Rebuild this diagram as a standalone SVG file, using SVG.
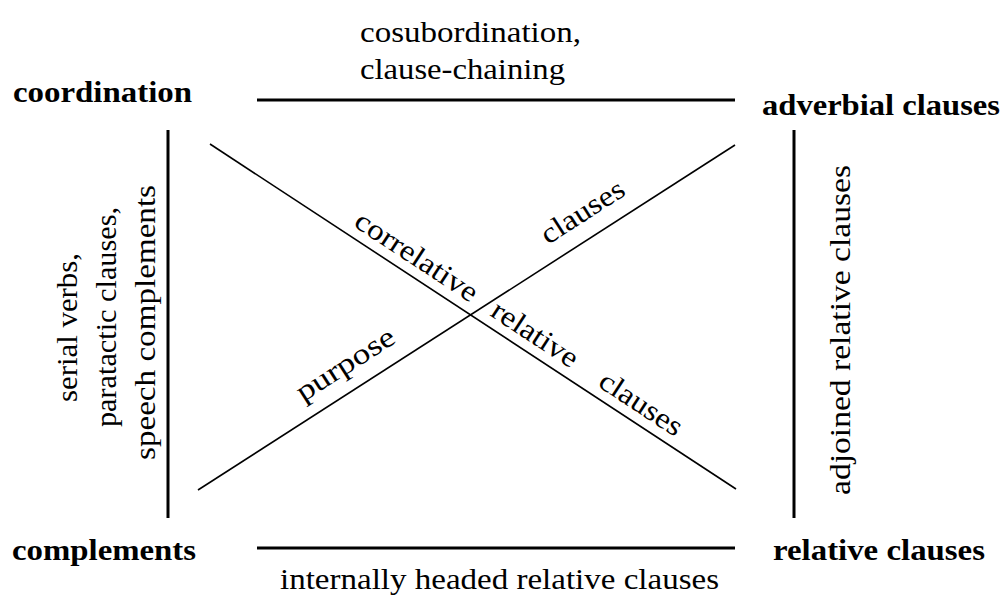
<svg xmlns="http://www.w3.org/2000/svg" width="1006" height="597" viewBox="0 0 1006 597">
<style>
  .node { font-weight: bold; font-size: 30px; }
  .lbl { font-size: 29px; }
  .thick { stroke: #000; stroke-width: 3; fill: none; }
  .thin { stroke: #000; stroke-width: 1.6; fill: none; }
</style>
<rect width="1006" height="597" fill="#fff"/>
<g font-family="Liberation Serif" fill="#000">
<g id="node-coordination">
  <text class="node" x="13" y="101.5" textLength="179" lengthAdjust="spacingAndGlyphs">coordination</text>
</g>
<g id="node-adverbial">
  <text class="node" x="762" y="115" textLength="238" lengthAdjust="spacingAndGlyphs">adverbial clauses</text>
</g>
<g id="node-complements">
  <text class="node" x="12" y="560" textLength="184" lengthAdjust="spacingAndGlyphs">complements</text>
</g>
<g id="node-relative">
  <text class="node" x="773" y="560" textLength="212" lengthAdjust="spacingAndGlyphs">relative clauses</text>
</g>

<g id="connectors">
  <g id="edge-top">
    <line class="thick" x1="257" y1="100" x2="735" y2="100"/>
    <text class="lbl" x="360" y="41.5" textLength="221" lengthAdjust="spacingAndGlyphs">cosubordination,</text>
    <text class="lbl" x="360" y="78.5" textLength="205" lengthAdjust="spacingAndGlyphs">clause-chaining</text>
  </g>
  <g id="edge-bottom">
    <line class="thick" x1="257" y1="548" x2="735" y2="548"/>
    <text class="lbl" x="280" y="589" textLength="439" lengthAdjust="spacingAndGlyphs">internally headed relative clauses</text>
  </g>
  <g id="edge-left">
    <line class="thick" x1="168" y1="130" x2="168" y2="518"/>
    <text class="lbl" transform="translate(77,402) rotate(-90)" textLength="149" lengthAdjust="spacingAndGlyphs">serial verbs,</text>
    <text class="lbl" transform="translate(116,427) rotate(-90)" textLength="220" lengthAdjust="spacingAndGlyphs">paratactic clauses,</text>
    <text class="lbl" transform="translate(155,460) rotate(-90)" textLength="275" lengthAdjust="spacingAndGlyphs">speech complements</text>
  </g>
  <g id="edge-right">
    <line class="thick" x1="794" y1="130" x2="794" y2="518"/>
    <text class="lbl" transform="translate(850,495) rotate(-90)" textLength="330" lengthAdjust="spacingAndGlyphs">adjoined relative clauses</text>
  </g>
  <g id="edge-diag-down">
    <line class="thin" x1="210" y1="144" x2="736" y2="489"/>
    <text class="lbl" transform="translate(352.6,225.6) rotate(33.26)" textLength="141" lengthAdjust="spacingAndGlyphs">correlative</text>
    <text class="lbl" transform="translate(488.9,315) rotate(33.26)" textLength="98" lengthAdjust="spacingAndGlyphs">relative</text>
    <text class="lbl" transform="translate(596.7,385.7) rotate(33.26)" textLength="94" lengthAdjust="spacingAndGlyphs">clauses</text>
  </g>
  <g id="edge-diag-up">
    <line class="thin" x1="198" y1="490" x2="735" y2="145"/>
    <text class="lbl" transform="translate(303.2,402.2) rotate(-32.72)" textLength="112" lengthAdjust="spacingAndGlyphs">purpose</text>
    <text class="lbl" transform="translate(548,244.9) rotate(-32.72)" textLength="94" lengthAdjust="spacingAndGlyphs">clauses</text>
  </g>
</g>
</g>
</svg>
